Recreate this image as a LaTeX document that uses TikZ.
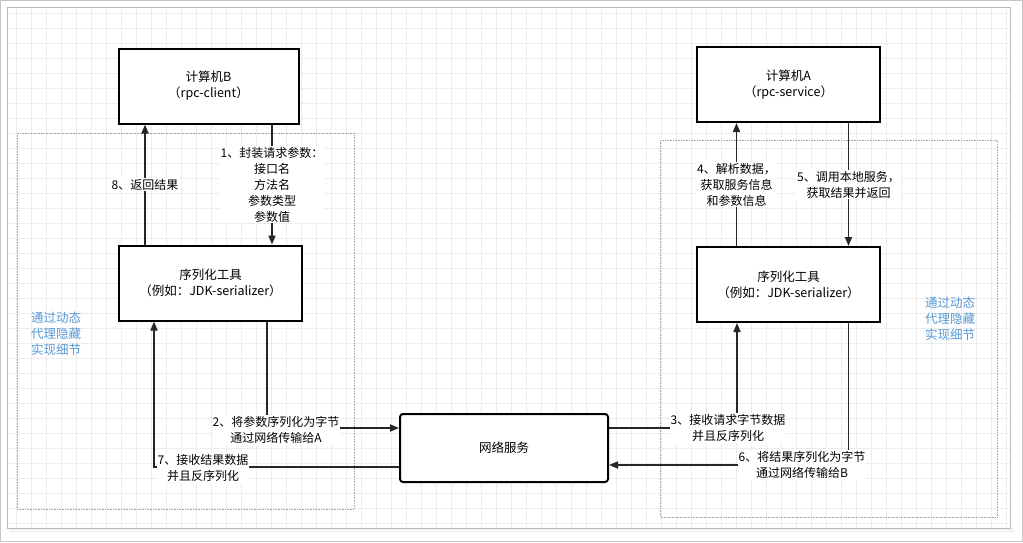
\documentclass[tikz,border=0pt]{standalone}
\usepackage{fontspec}
\setmainfont{Noto Sans CJK SC}
\usetikzlibrary{positioning,arrows.meta}
\definecolor{noteblue}{RGB}{88,152,212}

\begin{document}
\begin{tikzpicture}[
  x=1pt, y=-1pt,
  every node/.style={align=center, font=\fontsize{12}{16}\selectfont},
  compbox/.style={draw, line width=2pt, minimum width=180pt, minimum height=75pt, fill=white, font=\fontsize{12.5}{16}\selectfont},
  netbox/.style={draw, line width=2pt, rounded corners=3pt, minimum width=208pt, minimum height=68pt, fill=white, font=\fontsize{12.5}{16}\selectfont},
  arrow/.style={-{Triangle[length=9pt,width=7pt]}, line width=1.7pt, draw=black!85},
  lbl/.style={fill=white, inner sep=1pt},
  note/.style={text=noteblue, align=left, font=\fontsize{12.5}{16}\selectfont},
  region/.style={draw=gray!70, densely dotted, line width=0.6pt},
  gridline/.style={draw=gray!14, line width=0.4pt}
]
\useasboundingbox (0,0) rectangle (1023,542);
% frame and grid
\draw[gray!45, line width=0.6pt] (0.5,0.5) rectangle (1022.5,541.5);
\fill[gray!8] (9,528) rectangle (1014,533);
\fill[white] (7,7) rectangle (1010,528);
\foreach \gx in {16,31,...,1006} \draw[gridline] (\gx,7) -- (\gx,528);
\foreach \gy in {13,28,...,526} \draw[gridline] (7,\gy) -- (1010,\gy);
\draw[gray!55, line width=0.8pt] (7,7) rectangle (1010,528);

% hidden-detail regions
\draw[region] (17,133) rectangle (354,509);
\draw[region] (660,140) rectangle (997,517);
\node[note] (noteB) at (56,334) {通过动态\\代理隐藏\\实现细节};
\node[note] (noteA) at (950,319) {通过动态\\代理隐藏\\实现细节};

% boxes
\node[compbox] (compB) at (208.5,86) {计算机B\\（rpc-client）};
\node[compbox, minimum width=183pt] (compA) at (788.5,84.5) {计算机A\\（rpc-service）};
\node[compbox, minimum width=183pt] (serB) [below=120pt of compB.south, anchor=north, xshift=2pt] {序列化工具\\（例如：JDK-serializer）};
\node[compbox, minimum width=183pt] (serA) [below=123pt of compA.south, anchor=north] {序列化工具\\（例如：JDK-serializer）};
\node[netbox] (net) at (504,448) {网络服务};

% client side
\draw[arrow] ([xshift=-65.5pt]serB.north) -- ([xshift=-63.5pt]compB.south)
  node[lbl, midway] (l8) {8、返回结果};
\draw[arrow] ([xshift=63.5pt]compB.south) -- ([xshift=61.5pt]serB.north)
  node[lbl, midway] (l1) {1、封装请求参数：\\接口名\\方法名\\参数类型\\参数值};
\draw[arrow] ([xshift=56.5pt]serB.south) |- ([yshift=20pt]net.west);
\draw[arrow] ([yshift=-19pt]net.west) -| ([xshift=-56.5pt]serB.south);
\node[lbl] (l2) at (276,430) {2、将参数序列化为字节\\通过网络传输给A};
\node[lbl] (l7) at (203,468) {7、接收结果数据\\并且反序列化};

% service side
\draw[arrow] ([xshift=-52pt]serA.north) -- ([xshift=-52pt]compA.south)
  node[lbl, midway] (l4) {4、解析数据，\\获取服务信息\\和参数信息};
\draw[arrow] ([xshift=60pt]compA.south) -- ([xshift=60pt]serA.north)
  node[lbl, midway] (l5) {5、调用本地服务，\\获取结果并返回};
\draw[arrow] ([yshift=20pt]net.east) -| ([xshift=-51.5pt]serA.south);
\draw[arrow] ([xshift=60pt]serA.south) |- ([yshift=-17pt]net.east);
\node[lbl] (l3) at (728,428) {3、接收请求字节数据\\并且反序列化};
\node[lbl] (l6) at (802,465) {6、将结果序列化为字节\\通过网络传输给B};
\end{tikzpicture}
\end{document}
